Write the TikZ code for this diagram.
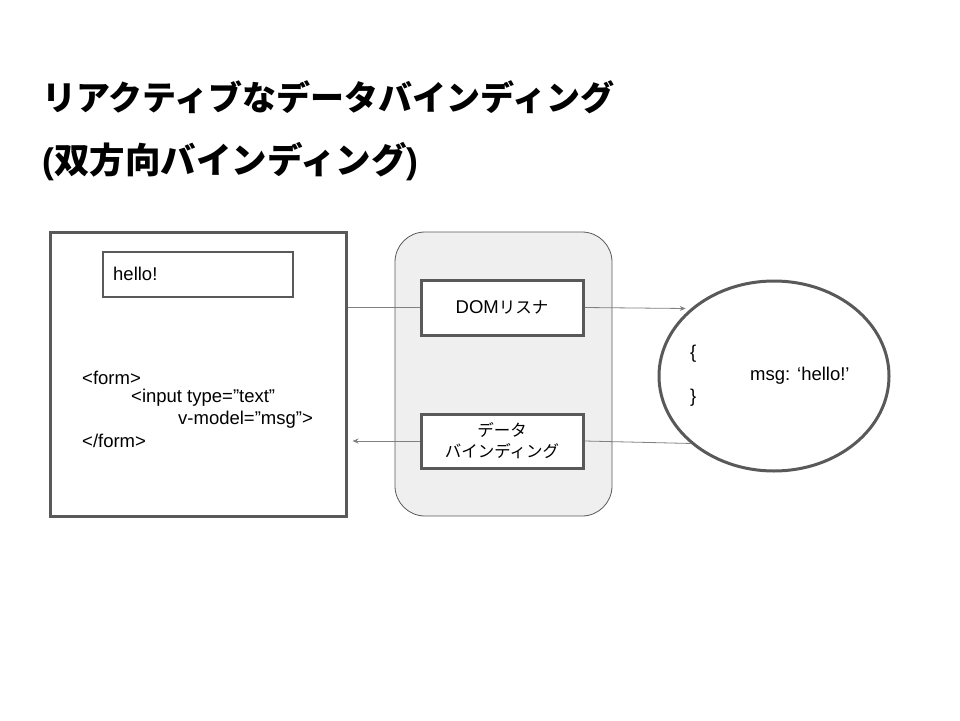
\documentclass[tikz,border=0pt]{standalone}
\usepackage{fontspec}
\setmainfont{Liberation Sans}
\newfontfamily\jp{Noto Sans CJK JP}
\usepackage{tikz}
\usetikzlibrary{positioning,shapes.geometric,arrows.meta}
\definecolor{linegray}{HTML}{595959}
\definecolor{arrowgray}{HTML}{808080}
\definecolor{panelgray}{HTML}{EFEFEF}

\begin{document}
\begin{tikzpicture}[x=1pt,y=-1pt,
		thickbox/.style={draw=linegray,line width=3pt,fill=white,inner sep=0pt},
		codetext/.style={anchor=west,inner sep=0pt,font=\fontsize{18.5}{22}\selectfont},
		titletext/.style={anchor=west,inner sep=0pt,font=\jp\bfseries\fontsize{34}{40}\selectfont},
		link/.style={draw=arrowgray,line width=0.8pt},
		tip/.style={-{Stealth[length=6pt,width=5pt]}}]
		\useasboundingbox (0,0) rectangle (960,720);
		
		\node[titletext] (title1) at (42,97) {リアクティブなデータバインディング};
		\node[titletext,font=\jp\bfseries\fontsize{35.5}{40}\selectfont] (title2) at (42,162) {{\normalfont\bfseries (}双方向バインディング{\normalfont\bfseries )}};
		
		\node[thickbox,minimum width=296pt,minimum height=284pt] (web) at (198,374) {};
		\node[draw=linegray,line width=1.5pt,minimum width=190pt,minimum height=45pt] (input) at (198,274.5) {};
		\node[codetext] (hello) at (113,274) {hello!};
		
		\node[codetext] (form) at (82,378) {<form>};
		\node[codetext] (tag) at (131,398) {<input type=”text”};
		\node[codetext] (vmodel) at (178,420) {v-model=”msg”>};
		\node[codetext] (endform) at (82,441) {</form>};
		
		\node[draw=linegray,line width=0.8pt,fill=panelgray,rounded corners=30pt,minimum width=217pt,minimum height=284pt] (vue) at (503.5,374) {};
		
		\node[thickbox,minimum width=162pt,minimum height=55pt,font=\fontsize{18.5}{22}\selectfont] (dom) at (502,307.5) {DOM{\jp\fontsize{16.5}{20}\selectfont リスナ}};
		\node[thickbox,minimum width=162pt,minimum height=54pt,align=center,font=\jp\fontsize{16.5}{21}\selectfont] (bind) at (502,441) {データ\\バインディング};
		
		\node[ellipse,draw=linegray,line width=3pt,fill=white,minimum width=230pt,minimum height=190pt] (model) at (774,376) {};
		\node[codetext] (open) at (690,354) {\{};
		\node[codetext] (msg) at (750,376) {msg: ‘hello!’};
		\node[codetext] (close) at (690,398) {\}};
		
		\draw[link] (web.east |- dom.west) -- (dom.west);
		\draw[link,tip,shorten >=5pt] (dom.east) -- (model.141);
		\draw[link] (model.219) -- (bind.east);
		\draw[link,tip,shorten >=5pt] (bind.west) -- (bind.west -| web.east);
	\end{tikzpicture}
\end{document}
